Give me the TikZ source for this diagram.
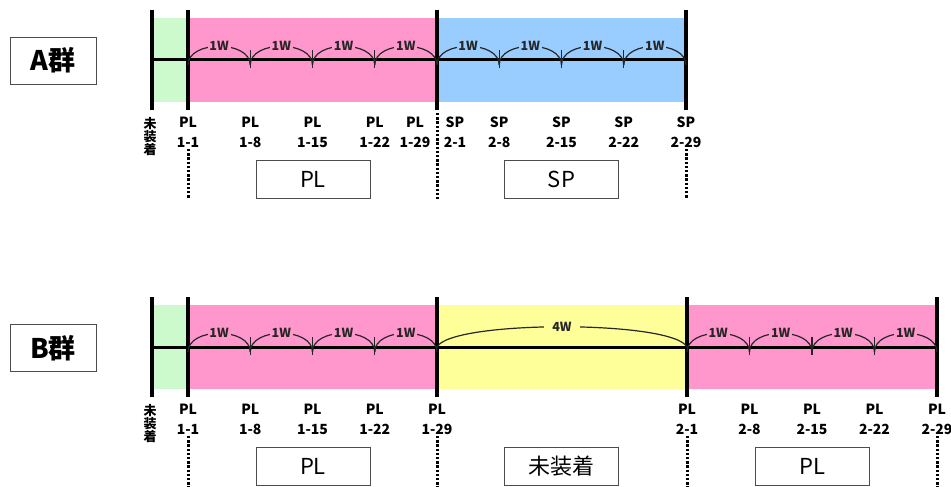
\documentclass[tikz,border=0pt]{standalone}
\usepackage{fontspec}
\setmainfont{Noto Sans CJK JP}
\definecolor{cgreen}{RGB}{204,250,204}
\definecolor{cpink}{RGB}{255,150,204}
\definecolor{cblue}{RGB}{153,204,255}
\definecolor{cyellow}{RGB}{255,255,153}
\begin{document}
\begin{tikzpicture}[x=1pt,y=-1pt,
  bar/.style={line width=3.4pt},
  axisline/.style={line width=3pt},
  arcline/.style={line width=1.2pt, black!85},
  dotline/.style={line width=3pt, dash pattern=on 2.4pt off 1.8pt},
  tlabel/.style={font=\fontsize{14}{20}\selectfont\bfseries, align=center, inner sep=0pt},
  vlabel/.style={font=\fontsize{13}{13}\selectfont\bfseries, align=center, inner sep=0pt},
  wlabel/.style={font=\fontsize{12.5}{13}\selectfont\bfseries, inner sep=1.8pt},
  groupbox/.style={draw=black!70, line width=0.9pt, minimum width=86pt, minimum height=47pt, inner sep=0pt, font=\fontsize{27}{29}\selectfont\bfseries},
  catbox/.style={draw=black!70, line width=0.9pt, minimum width=114pt, minimum height=38pt, inner sep=0pt, font=\fontsize{22}{24}\selectfont}]
\useasboundingbox (0,0) rectangle (951,487);

%% ---------------- Row A ----------------
\fill[cgreen] (152,18) rectangle (188,102);
\fill[cpink] (188,18) rectangle (437,102);
\fill[cblue] (437,18) rectangle (686,102);

\coordinate (aS) at (152,60);
\foreach \n/\x in {0/188,1/250.25,2/312.5,3/374.75,4/437,5/499.25,6/561.5,7/623.75,8/686}
  \coordinate (a\n) at (\x,60);
\draw[axisline] (aS) -- (a8);
\foreach \x in {152,188,437,686} \draw[bar] (\x,10) -- (\x,110);
\foreach \n in {1,2,3,5,6,7} \draw[arcline] ([yshift=-8pt]a\n) -- ([yshift=10pt]a\n);
\foreach \a/\b/\c in {0/1/cpink,1/2/cpink,2/3/cpink,3/4/cpink,4/5/cblue,5/6/cblue,6/7/cblue,7/8/cblue}
  \draw[arcline] ([yshift=-5pt]a\a) .. controls +(0,-25) and +(0,-25) .. node[wlabel, fill=\c] {1W} ([yshift=-5pt]a\b);

\node[vlabel] (aU) at (150,137) {未\\装\\着};
\node[tlabel] (al0) at (188,132) {PL\\1-1};
\node[tlabel] (al1) at (250.25,132) {PL\\1-8};
\node[tlabel] (al2) at (312.5,132) {PL\\1-15};
\node[tlabel] (al3) at (374.75,132) {PL\\1-22};
\node[tlabel] (al4) at (415,132) {PL\\1-29};
\node[tlabel] (al5) at (455,132) {SP\\2-1};
\node[tlabel] (al6) at (499.25,132) {SP\\2-8};
\node[tlabel] (al7) at (561.5,132) {SP\\2-15};
\node[tlabel] (al8) at (623.75,132) {SP\\2-22};
\node[tlabel] (al9) at (686,132) {SP\\2-29};

\draw[dotline] (188,149) -- (188,199);
\draw[dotline] (437,113) -- (437,199);
\draw[dotline] (686,149) -- (686,199);

\node[groupbox] (gA) at (53,60.5) {A群};
\node[catbox] (bA1) at (313,179) {PL};
\node[catbox] (bA2) at (561.5,179) {SP};

%% ---------------- Row B ----------------
\fill[cgreen] (152,305) rectangle (188,389);
\fill[cpink] (188,305) rectangle (437,389);
\fill[cyellow] (437,305) rectangle (687,389);
\fill[cpink] (687,305) rectangle (937,389);

\coordinate (bS) at (152,347);
\foreach \n/\x in {0/188,1/250.25,2/312.5,3/374.75,4/437,5/687,6/749.5,7/812,8/874.5,9/937}
  \coordinate (b\n) at (\x,347);
\draw[axisline] (bS) -- (b9);
\foreach \x in {152,188,437,687,937} \draw[bar] (\x,297) -- (\x,397);
\foreach \n in {1,2,3,6,7,8} \draw[arcline] ([yshift=-8pt]b\n) -- ([yshift=10pt]b\n);
\foreach \a/\b in {0/1,1/2,2/3,3/4,5/6,6/7,7/8,8/9}
  \draw[arcline] ([yshift=-5pt]b\a) .. controls +(0,-25) and +(0,-25) .. node[wlabel, fill=cpink] {1W} ([yshift=-5pt]b\b);
\draw[arcline] (b4) .. controls +(14,-27) and +(-14,-27) .. node[wlabel, fill=cyellow, inner xsep=8pt] {4W} (b5);

\node[vlabel] (bU) at (150,424) {未\\装\\着};
\node[tlabel] (bl0) at (188,419) {PL\\1-1};
\node[tlabel] (bl1) at (250.25,419) {PL\\1-8};
\node[tlabel] (bl2) at (312.5,419) {PL\\1-15};
\node[tlabel] (bl3) at (374.75,419) {PL\\1-22};
\node[tlabel] (bl4) at (437,419) {PL\\1-29};
\node[tlabel] (bl5) at (687,419) {PL\\2-1};
\node[tlabel] (bl6) at (749.5,419) {PL\\2-8};
\node[tlabel] (bl7) at (812,419) {PL\\2-15};
\node[tlabel] (bl8) at (874.5,419) {PL\\2-22};
\node[tlabel] (bl9) at (937,419) {PL\\2-29};

\foreach \x in {188,437,687,937} \draw[dotline] (\x,436) -- (\x,487);

\node[groupbox] (gB) at (53,348) {B群};
\node[catbox] (bB1) at (313,466) {PL};
\node[catbox] (bB2) at (561.5,466) {未装着};
\node[catbox] (bB3) at (812.5,466) {PL};
\end{tikzpicture}
\end{document}
